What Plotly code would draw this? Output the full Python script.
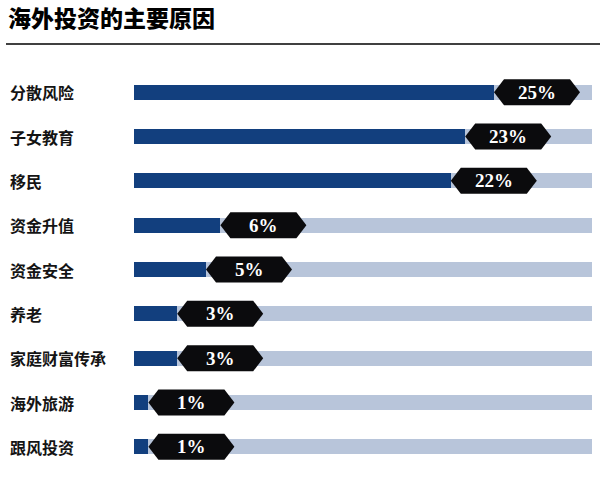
import plotly.graph_objects as go

title = "海外投资的主要原因"
categories = ["分散风险", "子女教育", "移民", "资金升值", "资金安全", "养老", "家庭财富传承", "海外旅游", "跟风投资"]
values = [25, 23, 22, 6, 5, 3, 3, 1, 1]
value_labels = ["25%", "23%", "22%", "6%", "5%", "3%", "3%", "1%", "1%"]

W, H = 600, 479
L, R = 134, 592
T, B = 70, 469
XMAX = (R - L) / 14.4
rows = list(range(len(categories)))

DARK = "#123f7e"
LIGHT = "#b8c5da"

fig = go.Figure()
fig.add_trace(go.Bar(
    x=[XMAX] * len(categories), y=rows, orientation="h",
    marker=dict(color=LIGHT, line=dict(width=0)), width=0.34,
    hoverinfo="skip", showlegend=False))
fig.add_trace(go.Bar(
    x=values, y=rows, orientation="h",
    marker=dict(color=DARK, line=dict(width=0)), width=0.34,
    showlegend=False))

shapes = []
annotations = []
hexpath = "M 0 0 L 10 13 L 76 13 L 86 0 L 76 -13 L 10 -13 Z"
for i, (v, lab, cat) in enumerate(zip(values, value_labels, categories)):
    shapes.append(dict(
        type="path", xref="x", yref="y",
        xsizemode="pixel", ysizemode="pixel",
        xanchor=v, yanchor=i, path=hexpath,
        fillcolor="#0b0b0d", line=dict(width=0), layer="above"))
    annotations.append(dict(
        x=v, y=i, xref="x", yref="y", xshift=43, text=lab, showarrow=False,
        xanchor="center", yanchor="middle",
        font=dict(family="Liberation Serif", size=19, color="white", weight="bold")))
    annotations.append(dict(
        x=(8 - L) / (R - L), y=i, xref="paper", yref="y", text=cat, showarrow=False,
        xanchor="left", yanchor="middle",
        font=dict(family="Noto Sans CJK SC", size=16, color="#141414", weight="bold")))

# title rule
shapes.append(dict(type="line", xref="paper", yref="paper",
                   x0=(6 - L) / (R - L), x1=(600 - L) / (R - L),
                   y0=1 + (T - 44) / (B - T), y1=1 + (T - 44) / (B - T),
                   line=dict(color="#000000", width=1.5)))

fig.update_layout(
    width=W, height=H,
    margin=dict(l=L, r=W - R, t=T, b=H - B, pad=0),
    paper_bgcolor="white", plot_bgcolor="white",
    barmode="overlay", bargap=0,
    title=dict(text=title, x=8 / W, xref="container", xanchor="left",
               y=1 - 19 / H, yref="container", yanchor="middle",
               font=dict(family="Noto Sans CJK SC", size=23, color="#000000", weight=900)),
    xaxis=dict(range=[0, XMAX], visible=False, fixedrange=True),
    yaxis=dict(range=[len(categories) - 0.5, -0.5], visible=False, fixedrange=True),
    shapes=shapes, annotations=annotations,
)

fig.write_html("out.html")
